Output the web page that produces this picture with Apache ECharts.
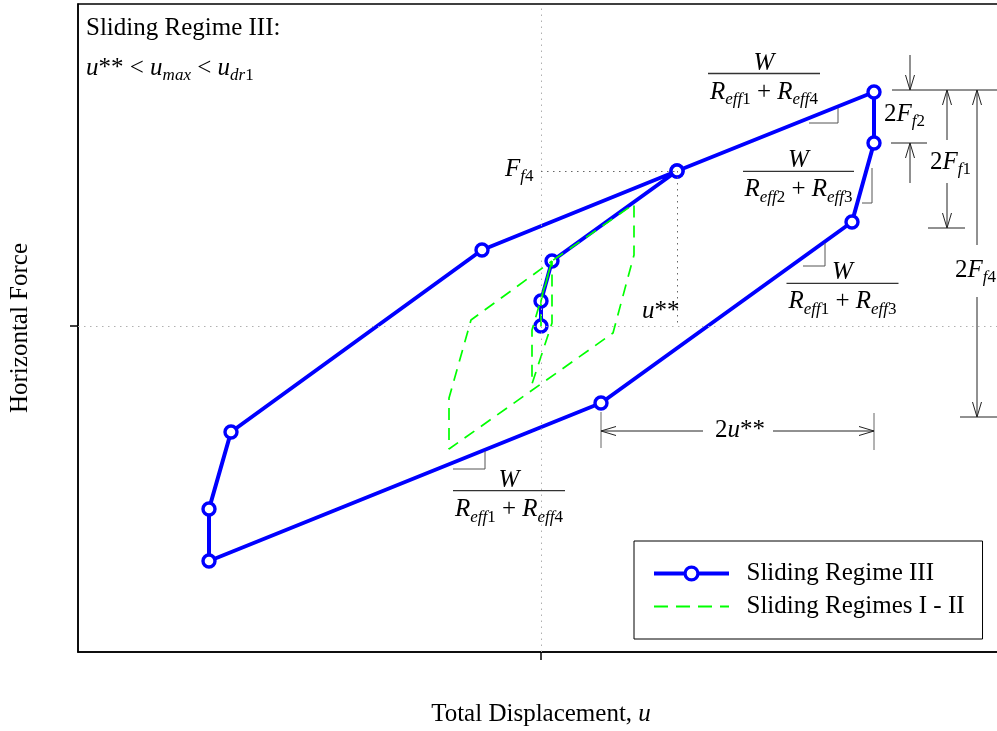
<!DOCTYPE html>
<html>
<head>
<meta charset="utf-8">
<script src="https://cdn.jsdelivr.net/npm/echarts@6/dist/echarts.min.js"></script>
<style>
  html, body { margin: 0; padding: 0; background: #fff; }
  #chart { width: 997px; height: 731px; }
</style>
</head>
<body>
<div id="chart"></div>
<script>
// Hysteresis loops in normalised units (displacement, horizontal force)
const regime3Disp  = [0.00, 0.00, 0.11, 1.36, 3.33, 3.33, 3.11, 0.60, -3.32, -3.32, -3.10, -0.59, 1.36];
const regime3Force = [0.00, 0.25, 0.65, 1.55, 2.34, 1.83, 1.04, -0.77, -2.35, -1.83, -1.06, 0.76, 1.55];

const regime12Disp  = [0.00, 0.00, 0.11, 0.11, -0.09, -0.09, 0.11, 0.93, 0.93, 0.72, -0.92, -0.92, -0.70, 0.11];
const regime12Force = [0.00, 0.25, 0.65, 0.03, -0.58, -0.04, 0.65, 1.22, 0.71, -0.07, -1.23, -0.72, 0.06, 0.65];

const seriesNames = ['Sliding Regime III', 'Sliding Regimes I - II'];
const xTitle = ['Total Displacement, ', 'u'];
const yTitle = 'Horizontal Force';

const SERIF = "'Liberation Serif', 'Times New Roman', Times, serif";
const FS = 25, SUB = 17;
const BLUE = '#0000ff', GREEN = '#00ff00';

function pairs(xs, ys) { return xs.map((x, i) => [x, ys[i]]); }
const regime3 = pairs(regime3Disp, regime3Force);
const regime12 = pairs(regime12Disp, regime12Force);
const peakIdx = 3;    // F_f4 / u** point
const topIdx = 4;     // maximum displacement, upper branch
const unloadIdx = 7;  // end of unloading drop

const chart = echarts.init(document.getElementById('chart'), null, { renderer: 'canvas' });

const dotted = (c) => ({ color: c, type: [1.5, 4.5], width: 1 });

chart.setOption({
  animation: false,
  backgroundColor: '#fff',
  grid: {
    left: 78, top: 4, width: 926, height: 648,
    show: true, borderColor: '#000', borderWidth: 1.5, backgroundColor: 'transparent',
    containLabel: false, outerBoundsMode: 'none'
  },
  xAxis: {
    type: 'value', min: -4.63, max: 4.63,
    axisLine: { show: true, onZero: false, lineStyle: { color: '#000', width: 1.5 } },
    axisTick: { show: true, customValues: [0], length: 8, inside: false, lineStyle: { color: '#000', width: 1.5 } },
    axisLabel: { show: false },
    splitLine: { show: false },
    name: '{n|' + xTitle[0] + '}{i|' + xTitle[1] + '}',
    nameLocation: 'middle', nameGap: 50,
    nameTextStyle: {
      rich: {
        n: { fontFamily: SERIF, fontSize: FS, color: '#000' },
        i: { fontFamily: SERIF, fontSize: FS, fontStyle: 'italic', color: '#000' }
      }
    }
  },
  yAxis: {
    type: 'value', min: -3.26, max: 3.22,
    axisLine: { show: true, onZero: false, lineStyle: { color: '#000', width: 1.5 } },
    axisTick: { show: true, customValues: [0], length: 8, inside: false, lineStyle: { color: '#000', width: 1.5 } },
    axisLabel: { show: false },
    splitLine: { show: false },
    name: yTitle, nameLocation: 'middle', nameGap: 45,
    nameTextStyle: { fontFamily: SERIF, fontSize: FS, color: '#000' }
  },
  legend: {
    left: 634, top: 541, orient: 'vertical',
    itemWidth: 75, itemHeight: 16, itemGap: 8,
    padding: [20, 18, 20, 18],
    borderColor: '#000', borderWidth: 1, backgroundColor: '#fff',
    formatter: (name) => '  ' + name,
    textStyle: { fontFamily: SERIF, fontSize: FS, color: '#000' },
    selectedMode: false,
    data: [
      { name: seriesNames[0],
        itemStyle: { color: '#fff', borderColor: BLUE, borderWidth: 3.2 },
        lineStyle: { color: BLUE, width: 4 } },
      { name: seriesNames[1],
        itemStyle: { opacity: 0 },
        lineStyle: { color: GREEN, width: 1.8, type: [14, 8] } }
    ]
  },
  series: [
    {
      name: seriesNames[0], type: 'line', data: regime3,
      symbol: 'circle', symbolSize: 12,
      lineStyle: { color: BLUE, width: 4 },
      itemStyle: { color: '#ffffff', borderColor: BLUE, borderWidth: 3.4 },
      emphasis: { disabled: true },
      z: 2,
      markLine: {
        silent: true, symbol: 'none', label: { show: false }, animation: false,
        emphasis: { disabled: true },
        lineStyle: dotted('#b0b0b0'),
        data: [
          { xAxis: 0 },
          { yAxis: 0 },
          [{ coord: [0, regime3Force[peakIdx]], lineStyle: dotted('#666') },
           { coord: [regime3Disp[peakIdx], regime3Force[peakIdx]] }],
          [{ coord: [regime3Disp[peakIdx], regime3Force[peakIdx]], lineStyle: dotted('#666') },
           { coord: [regime3Disp[peakIdx], 0] }]
        ]
      }
    },
    {
      name: seriesNames[1], type: 'line', data: regime12,
      symbol: 'none',
      lineStyle: { color: GREEN, width: 1.7, type: [12, 8] },
      itemStyle: { color: GREEN },
      emphasis: { disabled: true },
      z: 3
    }
  ]
});

// ---- annotations -------------------------------------------------------
const RICH = {
  n:  { fontFamily: SERIF, fontSize: FS, fill: '#000' },
  i:  { fontFamily: SERIF, fontSize: FS, fontStyle: 'italic', fill: '#000' },
  s:  { fontFamily: SERIF, fontSize: SUB, fontStyle: 'italic', fill: '#000', padding: [16, 0, 0, 0] },
  sn: { fontFamily: SERIF, fontSize: SUB, fill: '#000', padding: [16, 0, 0, 0] }
};
const INK = '#222', GREY = '#555';

function txt(x, y, text, align) {
  return { type: 'text', x: x, y: y, silent: true, z: 10,
    style: { text: text, rich: RICH, align: align || 'left', verticalAlign: 'middle' } };
}
function seg(x1, y1, x2, y2, c, w) {
  return { type: 'line', silent: true, z: 10,
    shape: { x1: x1, y1: y1, x2: x2, y2: y2 }, style: { stroke: c || INK, lineWidth: w || 1 } };
}
function arrow(x1, y1, x2, y2) {
  const dx = x2 - x1, dy = y2 - y1, L = Math.hypot(dx, dy), ux = dx / L, uy = dy / L;
  const hl = 15, hw = 4.5, bx = x2 - ux * hl, by = y2 - uy * hl;
  return [
    seg(x1, y1, x2, y2),
    { type: 'polyline', silent: true, z: 10,
      shape: { points: [[bx - uy * hw, by + ux * hw], [x2, y2], [bx + uy * hw, by - ux * hw]] },
      style: { stroke: INK, fill: null, lineWidth: 1 } }
  ];
}
function fraction(cx, barY, halfW, den) {
  return [
    txt(cx, barY - 10.5, '{i|W}', 'center'),
    seg(cx - halfW, barY, cx + halfW, barY, '#333', 1.3),
    txt(cx, barY + 18.5, den, 'center')
  ];
}
const REFF = (a, b) => '{i|R}{s|eff}{sn|' + a + '}{n| + }{i|R}{s|eff}{sn|' + b + '}';

const px = (p) => chart.convertToPixel({ xAxisIndex: 0, yAxisIndex: 0 }, p);
const E = px(regime3[topIdx]);
const F = px(regime3[topIdx + 1]);
const H = px(regime3[unloadIdx]);
const D = px(regime3[peakIdx]);

const g = [];
// regime description
g.push(txt(86, 28, '{n|Sliding Regime III:}'));
g.push(txt(86, 68, '{i|u}{n|** < }{i|u}{s|max}{n| < }{i|u}{s|dr}{sn|1}'));

// stiffness fractions and slope marks
g.push(...fraction(764, 73.5, 56, REFF(1, 4)));
g.push(seg(809, 123, 838, 123, GREY), seg(838, 123, 838, 108, GREY));
g.push(...fraction(798.5, 171.3, 55.5, REFF(2, 3)));
g.push(seg(872, 168, 872, 203, GREY), seg(862, 203, 872, 203, GREY));
g.push(...fraction(842.5, 283.3, 56, REFF(1, 3)));
g.push(seg(803, 266, 825, 266, GREY), seg(825, 243, 825, 266, GREY));
g.push(...fraction(509, 490.7, 56, REFF(1, 4)));
g.push(seg(485, 451, 485, 469, GREY), seg(453, 469, 485, 469, GREY));

// F_f4 and u** labels
g.push(txt(505, D[1] - 2, '{i|F}{s|f}{sn|4}', 'left'));
g.push(txt(642, 311, '{i|u}{n|**}', 'left'));

// force dimensions on the right
const yTop = E[1] - 2;
g.push(seg(892, yTop, 1000, yTop));
g.push(seg(891, F[1], 927, F[1]));
g.push(...arrow(910, 55, 910, yTop));
g.push(...arrow(910, 183, 910, F[1]));
g.push(txt(884, 114, '{n|2}{i|F}{s|f}{sn|2}'));
g.push(...arrow(947, 140, 947, yTop));
g.push(...arrow(947, 183, 947, 228));
g.push(seg(928, 228, 965, 228));
g.push(txt(930, 162, '{n|2}{i|F}{s|f}{sn|1}'));
g.push(...arrow(977, 245, 977, yTop));
g.push(...arrow(977, 297, 977, 417));
g.push(seg(960, 417, 1000, 417));
g.push(txt(955, 270, '{n|2}{i|F}{s|f}{sn|4}'));

// displacement dimension 2u**
g.push(seg(H[0], 412, H[0], 448, '#666'));
g.push(seg(E[0], 413, E[0], 450, '#666'));
g.push(...arrow(703, 431, H[0], 431));
g.push(...arrow(773, 431, E[0], 431));
g.push(txt(740, 430, '{n|2}{i|u}{n|**}', 'center'));

chart.setOption({ graphic: { elements: g } });
</script>
</body>
</html>
